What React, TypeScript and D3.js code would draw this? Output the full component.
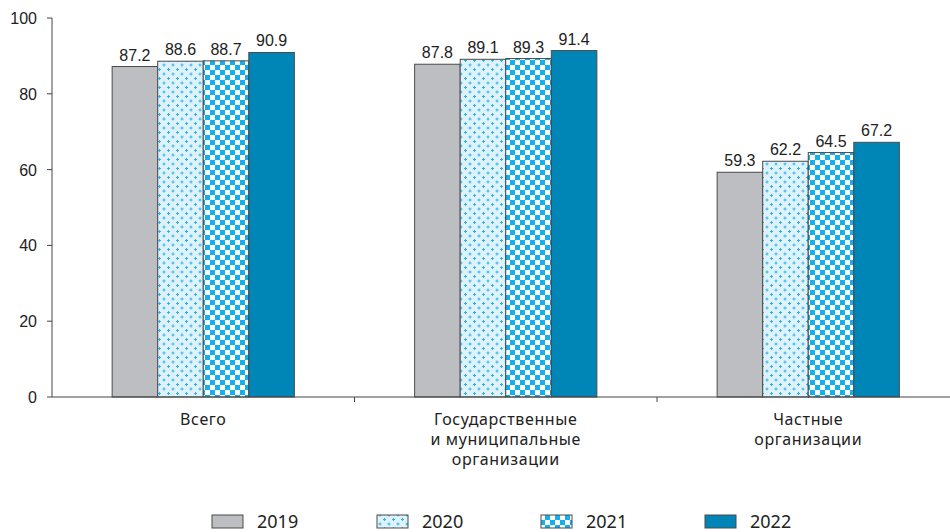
import React, { useEffect, useRef } from 'react';
import * as d3 from 'd3';

// categories (multi-line labels)
const categories: string[][] = [
  ['Всего'],
  ['Государственные', 'и муниципальные', 'организации'],
  ['Частные', 'организации'],
];
const years = ['2019', '2020', '2021', '2022'];

// values by year, one per category
const v2019 = [87.2, 87.8, 59.3];
const v2020 = [88.6, 89.1, 62.2];
const v2021 = [88.7, 89.3, 64.5];
const v2022 = [90.9, 91.4, 67.2];
const series = [v2019, v2020, v2021, v2022];

const yTicks = [0, 20, 40, 60, 80, 100];

const FILLS = ['#bdbec2', 'url(#dots)', 'url(#checks)', '#0085b7'];

const W = 950;
const H = 532;

const App: React.FC = () => {
  const svgRef = useRef<SVGSVGElement | null>(null);

  useEffect(() => {
    if (!svgRef.current) return;
    const svg = d3.select(svgRef.current);
    svg.selectAll('*').remove();

    const left = 52;
    const top = 18;
    const bottom = 397;

    const defs = svg.append('defs');
    // light blue with small crosses
    const dots = defs
      .append('pattern')
      .attr('id', 'dots')
      .attr('patternUnits', 'userSpaceOnUse')
      .attr('width', 9)
      .attr('height', 9);
    dots.append('rect').attr('width', 9).attr('height', 9).attr('fill', '#def2fb');
    [[2, 2], [6.5, 6.5]].forEach(([cx, cy]) => {
      dots.append('rect').attr('x', cx - 1.5).attr('y', cy - 0.5).attr('width', 3).attr('height', 1).attr('fill', '#2fb4ea');
      dots.append('rect').attr('x', cx - 0.5).attr('y', cy - 1.5).attr('width', 1).attr('height', 3).attr('fill', '#2fb4ea');
    });
    // checker
    const checks = defs
      .append('pattern')
      .attr('id', 'checks')
      .attr('patternUnits', 'userSpaceOnUse')
      .attr('width', 10)
      .attr('height', 10);
    checks.append('rect').attr('width', 10).attr('height', 10).attr('fill', '#ffffff');
    checks.append('rect').attr('width', 5).attr('height', 5).attr('fill', '#12b0ef');
    checks.append('rect').attr('x', 5).attr('y', 5).attr('width', 5).attr('height', 5).attr('fill', '#12b0ef');

    const y = d3.scaleLinear().domain([0, 100]).range([bottom, top]);
    const x0 = d3
      .scaleBand<number>()
      .domain(categories.map((_, i) => i))
      .range([left, left + 3 * 302.5])
      .padding(0);
    const x1 = d3
      .scaleBand<string>()
      .domain(years)
      .range([0, x0.bandwidth()])
      .paddingInner(0)
      .paddingOuter(1.32);

    // bars
    const g = svg.append('g');
    categories.forEach((_, ci) => {
      years.forEach((yr, si) => {
        const val = series[si][ci];
        const bx = (x0(ci) ?? 0) + (x1(yr) ?? 0);
        g.append('rect')
          .attr('x', bx)
          .attr('y', y(val))
          .attr('width', x1.bandwidth())
          .attr('height', bottom - y(val))
          .attr('fill', FILLS[si])
          .attr('stroke', '#4a4a4a')
          .attr('stroke-width', 1);
        g.append('text')
          .attr('x', bx + x1.bandwidth() / 2)
          .attr('y', y(val) - 6)
          .attr('text-anchor', 'middle')
          .attr('font-family', 'Liberation Sans, Arial, sans-serif')
          .attr('font-size', 16)
          .attr('fill', '#222')
          .text(val.toFixed(1));
      });
    });

    // y axis
    svg.append('line')
      .attr('x1', left).attr('x2', left)
      .attr('y1', top).attr('y2', bottom)
      .attr('stroke', '#444');
    yTicks.forEach((t) => {
      svg.append('line')
        .attr('x1', left - 5).attr('x2', left)
        .attr('y1', y(t)).attr('y2', y(t))
        .attr('stroke', '#444');
      svg.append('text')
        .attr('x', left - 15)
        .attr('y', y(t) + 6)
        .attr('text-anchor', 'end')
        .attr('font-family', 'Liberation Sans, Arial, sans-serif')
        .attr('font-size', 16)
        .attr('fill', '#222')
        .text(t);
    });

    // x axis
    svg.append('line')
      .attr('x1', left).attr('x2', W)
      .attr('y1', bottom).attr('y2', bottom)
      .attr('stroke', '#444');
    categories.forEach((lines, ci) => {
      const bx = x0(ci) ?? 0;
      if (ci > 0) {
        svg.append('line')
          .attr('x1', bx).attr('x2', bx)
          .attr('y1', bottom).attr('y2', bottom + 5)
          .attr('stroke', '#444');
      }
      const t = svg.append('text')
        .attr('text-anchor', 'middle')
        .attr('font-family', 'Noto Sans, sans-serif')
        .attr('font-size', 16)
        .attr('letter-spacing', 0.6)
        .attr('fill', '#222');
      lines.forEach((ln, li) => {
        t.append('tspan')
          .attr('x', bx + x0.bandwidth() / 2)
          .attr('y', 425 + li * 20)
          .text(ln);
      });
    });

    // legend
    const legendX = [212, 377, 541, 705];
    years.forEach((yr, si) => {
      svg.append('rect')
        .attr('x', legendX[si])
        .attr('y', 515)
        .attr('width', 31)
        .attr('height', 13)
        .attr('fill', FILLS[si])
        .attr('stroke', '#4a4a4a');
      svg.append('text')
        .attr('x', legendX[si] + 45)
        .attr('y', 528)
        .attr('font-family', 'Noto Sans, sans-serif')
        .attr('font-size', 18)
        .attr('fill', '#222')
        .text(yr);
    });
  }, []);

  return (
    <svg
      ref={svgRef}
      width={W}
      height={H}
      style={{ position: 'absolute', left: 0, top: 0, background: '#fff' }}
    />
  );
};

export default App;
